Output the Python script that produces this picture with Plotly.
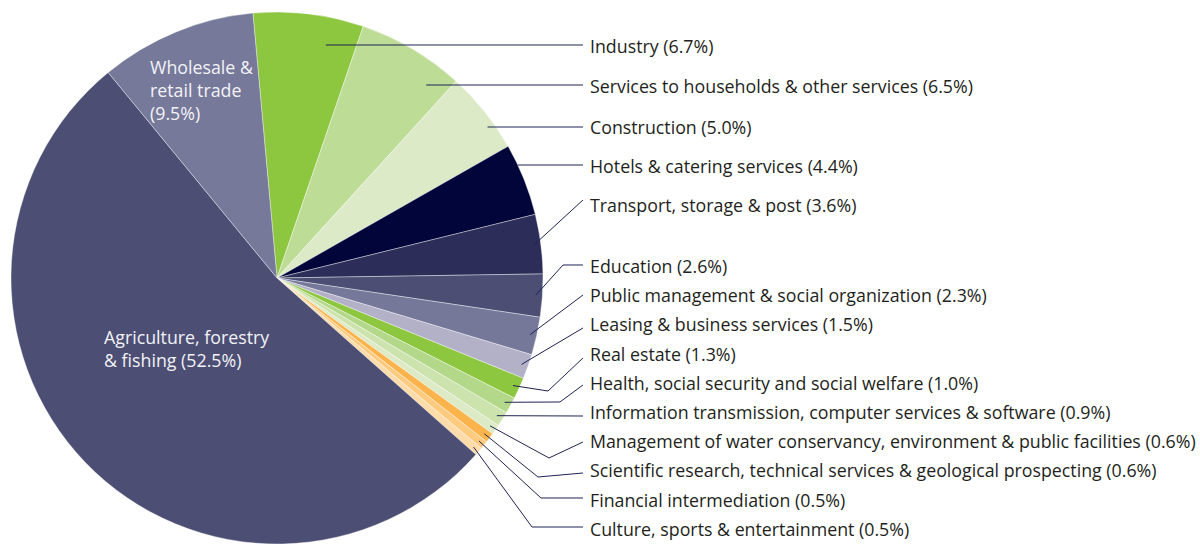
import math
import plotly.graph_objects as go

# ---- data (clockwise from the top) ----
sectors = [
    "Industry", "Services to households & other services", "Construction",
    "Hotels & catering services", "Transport, storage & post", "Education",
    "Public management & social organization", "Leasing & business services",
    "Real estate", "Health, social security and social welfare",
    "Information transmission, computer services & software",
    "Management of water conservancy, environment & public facilities",
    "Scientific research, technical services & geological prospecting",
    "Financial intermediation", "Culture, sports & entertainment",
    "Agriculture, forestry & fishing", "Wholesale & retail trade",
]
shares = [6.7, 6.5, 5.0, 4.4, 3.6, 2.6, 2.3, 1.5, 1.3, 1.0, 0.9, 0.6, 0.6, 0.5, 0.5, 52.5, 9.5]
colors = [
    "#8DC63F", "#BDDC95", "#DCEAC8", "#01053A", "#2C2D58", "#4C4E74",
    "#76789A", "#B2B1C8", "#8DC63F", "#B4D88A", "#CCE3AE", "#DCEAC6",
    "#FBB44C", "#FCCB80", "#FDDCAA", "#4C4E73", "#77799A",
]
n_outside = 15  # the first 15 sectors are labelled outside

# ---- layout (pixels) ----
W, H = 1200, 544
CX, CY, R = 277.0, 278.0, 266.0
ROT = -5.2
FONT = "Open Sans"
FSIZE = 17.8
label_x = 588
line_end_x = 583
label_y = [46, 86, 126.5, 165.5, 205, 266, 295.2, 324.4, 353.6, 382.8, 412,
           441.2, 470.4, 499.6, 528.8]
line_y = [45, 85, 127, 165, 200, 265, 295, 328, 358, 385, 416, 442, 473, 498, 527]
# top group: horizontal leaders starting at this radius fraction
top_frac = [0.895, 0.917, 0.974, 1.0]
low_frac = 0.975
# elbow points for the lower group (None = straight leader)
elbows = [None, (563, 265), None, None, (548, 391), (560, 402), None,
          (549, 458), (538, 477), (541, 498), (532, 527)]

def px(x):
    return x / W

def py(y):
    return 1 - y / H

fig = go.Figure()
fig.add_trace(go.Pie(
    values=shares, labels=sectors, sort=False, direction="clockwise",
    rotation=ROT, textinfo="none", hoverinfo="label+percent",
    marker=dict(colors=colors, line=dict(color="rgba(255,255,255,0.55)", width=0.7)),
    domain=dict(x=[px(CX - R), px(CX + R)], y=[max(py(CY + R), 0), py(CY - R)]),
    showlegend=False,
))

total = sum(shares)
cum = 0.0
mids = []
for v in shares:
    mids.append(ROT + 360 * (cum + v / 2) / total)
    cum += v

shapes = []
annotations = []
line_col = "#1F2455"
for i in range(n_outside):
    ly = line_y[i]
    if i < len(top_frac):
        r = top_frac[i] * R
        sx = CX + math.sqrt(max(r * r - (CY - ly) ** 2, 0))
        pts = [(sx, ly), (line_end_x, ly)]
    else:
        a = math.radians(mids[i])
        sx = CX + low_frac * R * math.sin(a)
        sy = CY - low_frac * R * math.cos(a)
        e = elbows[i - len(top_frac)]
        pts = [(sx, sy)] + ([e] if e else []) + [(line_end_x, ly)]
    path = "M " + " L ".join(f"{px(x):.5f},{py(y):.5f}" for x, y in pts)
    shapes.append(dict(type="path", xref="paper", yref="paper", path=path,
                       line=dict(color=line_col, width=1)))
    annotations.append(dict(
        x=px(label_x), y=py(label_y[i]), xref="paper", yref="paper",
        xanchor="left", yanchor="middle", showarrow=False,
        text=f"{sectors[i]} ({shares[i]:.1f}%)",
        font=dict(family=FONT, size=FSIZE, color="#231F20"),
    ))

inner = [
    ("Wholesale &<br>retail trade<br>(9.5%)", 148, 90),
    ("Agriculture, forestry<br>& fishing (52.5%)", 102, 348),
]
for txt, x, y in inner:
    annotations.append(dict(
        x=px(x), y=py(y), xref="paper", yref="paper", xanchor="left",
        yanchor="middle", align="left", showarrow=False, text=txt,
        font=dict(family=FONT, size=FSIZE, color="#F2F2F7"),
    ))

fig.update_layout(
    width=W, height=H, margin=dict(l=0, r=0, t=0, b=0, pad=0),
    paper_bgcolor="white", plot_bgcolor="white",
    shapes=shapes, annotations=annotations,
)
fig.write_html(
    "out.html",
    config={"displayModeBar": False},
    post_script="document.body.style.margin='0';document.body.style.overflow='hidden';",
)
